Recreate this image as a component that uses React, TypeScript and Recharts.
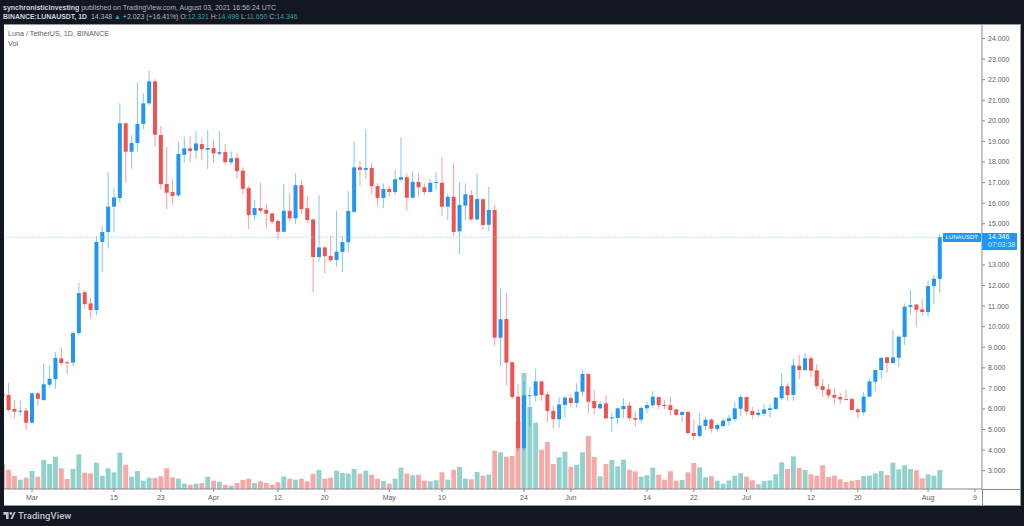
import React from "react";
import { ComposedChart, Bar, XAxis, YAxis, ReferenceLine } from "recharts";

// Days are counted from 1 March 2021; first candle is day -5.
const firstDay = -5;
const lastSlotDay = 162;

const opens = [
  6.74, 6.68, 6.0, 5.87, 5.92, 5.33, 6.76, 6.43, 7.18, 7.45,
  8.46, 8.27, 8.25, 9.69, 11.67, 11.13, 10.81, 14.12, 14.6, 15.83,
  16.25, 19.88, 18.5, 18.92, 19.85, 20.85, 21.92, 19.31, 16.93, 16.54,
  16.38, 18.35, 18.66, 18.55, 18.87, 18.6, 18.68, 18.4, 18.48, 17.98,
  18.19, 17.58, 16.73, 15.42, 15.76, 15.68, 15.5, 15.13, 14.61, 15.63,
  15.26, 16.87, 15.75, 15.21, 13.38, 13.85, 13.43, 13.24, 13.63, 14.1,
  15.58, 17.74, 17.62, 17.71, 16.83, 16.25, 16.69, 16.54, 17.14, 17.26,
  16.26, 17.03, 16.77, 16.54, 16.98, 16.99, 15.83, 16.31, 14.63, 15.88,
  16.39, 15.21, 16.19, 14.95, 15.67, 9.46, 10.37, 8.27, 6.6, 4.09,
  6.64, 6.64, 7.34, 6.71, 5.91, 5.5, 6.2, 6.53, 6.29, 6.84,
  7.7, 6.39, 6.03, 6.27, 5.55, 5.56, 5.99, 6.16, 5.56, 5.48,
  6.03, 6.18, 6.58, 6.19, 6.18, 5.98, 5.71, 5.85, 4.83, 4.69,
  5.17, 5.48, 5.03, 5.17, 5.41, 5.51, 6.01, 6.58, 5.9, 5.71,
  5.77, 5.95, 6.0, 6.52, 7.11, 6.68, 8.1, 7.89, 8.46, 7.88,
  7.11, 6.95, 6.68, 6.58, 6.48, 6.48, 5.98, 5.84, 6.6, 7.32,
  7.89, 8.51, 8.23, 8.49, 9.5, 10.96, 11.07, 10.84, 10.71, 11.97, 12.32,
];
const highs = [
  6.9, 7.26, 6.43, 6.4, 6.05, 6.8, 6.8, 8.22, 8.13, 8.77,
  9.0, 8.34, 9.75, 12.12, 11.78, 11.38, 14.4, 14.9, 17.51, 16.75,
  20.85, 19.93, 19.3, 21.87, 21.34, 22.42, 22.03, 19.75, 18.74, 17.17,
  18.98, 19.23, 19.26, 19.5, 19.16, 19.55, 19.1, 19.5, 18.87, 18.52,
  18.42, 17.74, 16.83, 16.15, 17.0, 15.96, 15.53, 15.23, 16.94, 16.48,
  17.45, 17.12, 16.35, 15.24, 16.39, 13.87, 14.43, 15.62, 14.43, 16.59,
  18.98, 18.05, 19.6, 17.96, 16.96, 16.96, 16.83, 17.61, 19.2, 17.45,
  17.55, 17.45, 16.96, 17.16, 17.51, 18.24, 16.44, 17.94, 17.03, 16.96,
  16.64, 17.45, 16.2, 16.8, 15.92, 11.86, 11.63, 8.32, 7.2, 7.32,
  7.08, 7.96, 7.35, 6.87, 6.16, 6.6, 6.6, 6.68, 7.25, 7.9,
  7.72, 6.92, 6.39, 6.66, 5.79, 6.05, 6.52, 6.35, 5.9, 6.11,
  6.34, 6.87, 6.6, 6.43, 6.6, 6.0, 5.9, 5.91, 5.5, 5.79,
  5.62, 5.55, 5.3, 5.55, 5.71, 6.34, 6.69, 6.6, 6.11, 6.0,
  6.24, 6.24, 6.6, 7.73, 7.25, 8.46, 8.62, 8.72, 8.57, 8.17,
  7.47, 7.21, 7.0, 6.77, 6.91, 6.55, 6.08, 6.81, 7.49, 7.95,
  8.52, 8.52, 9.83, 9.59, 11.13, 11.8, 11.11, 11.34, 12.23, 12.51, 14.5,
];
const lows = [
  6.5, 5.9, 5.56, 5.67, 4.98, 5.3, 6.16, 6.4, 7.03, 6.97,
  8.1, 7.7, 8.08, 9.58, 10.86, 10.39, 10.55, 12.65, 13.8, 14.58,
  16.0, 17.0, 17.67, 18.5, 19.6, 20.77, 18.74, 16.67, 15.7, 15.91,
  16.31, 17.98, 18.0, 18.16, 18.1, 17.66, 17.96, 18.3, 17.87, 17.85,
  17.19, 16.44, 14.74, 15.18, 15.5, 14.76, 14.99, 14.24, 14.6, 15.07,
  14.99, 15.5, 15.05, 11.65, 13.14, 12.59, 13.14, 12.91, 12.65, 13.59,
  15.53, 16.85, 17.17, 16.44, 15.83, 15.75, 16.31, 16.39, 17.04, 15.63,
  16.23, 16.31, 16.39, 16.5, 16.64, 15.37, 15.18, 14.4, 13.53, 15.18,
  15.15, 15.15, 14.7, 14.63, 9.07, 8.09, 7.16, 6.48, 3.9, 3.95,
  5.17, 6.35, 6.39, 5.35, 5.06, 5.09, 5.57, 6.08, 6.06, 6.64,
  5.79, 5.74, 5.99, 5.5, 4.89, 5.25, 5.54, 5.43, 5.14, 5.33,
  5.79, 6.06, 5.98, 5.98, 5.67, 5.66, 5.35, 4.73, 4.49, 4.6,
  4.98, 4.85, 4.89, 5.11, 5.19, 5.38, 5.66, 5.71, 5.5, 5.59,
  5.66, 5.59, 5.95, 6.42, 6.39, 6.4, 7.44, 7.86, 7.54, 6.96,
  6.57, 6.48, 6.19, 6.24, 6.43, 5.93, 5.56, 5.69, 6.57, 6.87,
  7.47, 7.76, 8.2, 8.05, 9.11, 10.6, 10.0, 10.52, 10.48, 11.1, 11.65,
];
const closes = [
  6.66, 5.95, 5.87, 5.92, 5.33, 6.76, 6.49, 7.2, 7.47, 8.48,
  8.23, 8.22, 9.69, 11.63, 11.1, 10.81, 14.12, 14.6, 15.83, 16.28,
  19.88, 18.5, 18.92, 19.85, 20.85, 21.92, 19.33, 16.92, 16.51, 16.35,
  18.39, 18.66, 18.53, 18.9, 18.62, 18.68, 18.42, 18.48, 17.99, 18.18,
  17.56, 16.7, 15.42, 15.76, 15.63, 15.49, 15.1, 14.61, 15.63, 15.26,
  16.87, 15.71, 15.18, 13.38, 13.85, 13.42, 13.22, 13.64, 14.11, 15.62,
  17.74, 17.62, 17.71, 16.82, 16.25, 16.69, 16.54, 17.16, 17.26, 16.26,
  17.03, 16.77, 16.54, 16.99, 17.03, 15.83, 16.31, 14.6, 15.91, 16.43,
  15.21, 16.2, 14.94, 15.67, 9.46, 10.36, 8.25, 6.58, 4.09, 6.66,
  6.67, 7.34, 6.68, 5.9, 5.5, 6.22, 6.55, 6.29, 6.84, 7.7,
  6.35, 6.04, 6.24, 5.55, 5.59, 6.03, 6.14, 5.55, 5.48, 6.05,
  6.19, 6.6, 6.18, 6.14, 5.95, 5.71, 5.85, 4.83, 4.69, 5.19,
  5.48, 5.04, 5.22, 5.43, 5.55, 6.03, 6.58, 5.88, 5.71, 5.82,
  5.98, 6.03, 6.55, 7.11, 6.68, 8.12, 7.89, 8.46, 7.86, 7.11,
  6.92, 6.66, 6.55, 6.47, 6.45, 5.95, 5.84, 6.6, 7.34, 7.89,
  8.48, 8.23, 8.51, 9.51, 10.97, 11.05, 10.82, 10.71, 11.97, 12.33, 14.35,
];
const volumes = [
  25, 19.3, 13, 9.3, 11.3, 18, 12.3, 29, 25, 32.3,
  20.7, 10, 20, 34.7, 16.3, 15.7, 26.3, 13.3, 20.7, 16.7,
  36.3, 24.3, 12.3, 18, 8.3, 11.3, 11, 12.7, 20.7, 11.7,
  10.3, 5.3, 4.3, 5.3, 6, 12.3, 8.3, 7.3, 4.3, 3.3,
  6, 9, 10.3, 6, 7.7, 6, 4.3, 6.7, 12.7, 10.3,
  9.3, 10.3, 7.7, 15.3, 19, 10.3, 11.3, 18.3, 16, 15.3,
  20, 15.3, 18.3, 14.3, 10.3, 8, 5.3, 10.3, 21.3, 15.3,
  13.7, 14.3, 8.3, 7.7, 8.7, 16.7, 9.3, 19.3, 22, 10.3,
  9.7, 17, 13.3, 14.3, 38.3, 36.7, 32.3, 33, 67.7, 116,
  82, 66.3, 39.3, 47, 25, 31.7, 37.3, 22.3, 24.3, 36.7,
  53, 32, 12.7, 25, 29, 22.7, 29.3, 19.3, 17.7, 12.3,
  13.7, 21.3, 14.3, 9.3, 17.7, 8.3, 9, 16.7, 26, 21.7,
  11.7, 12.7, 8.3, 5.3, 8.5, 13.3, 15.7, 12.3, 8.7, 4.7,
  8, 8.7, 14.7, 26.7, 20, 32.7, 21, 19, 14.7, 13.3,
  23.7, 12, 13.3, 9.7, 7, 8.3, 9, 13, 13.3, 15.7,
  18, 14, 26.3, 19.7, 23.7, 20, 18.7, 10.7, 14.7, 13.3, 19,
];

const tickDays = [0, 14, 22, 31, 42, 50, 61, 70, 84, 92, 105, 113, 122, 133, 141, 153, 161];
const tickLabels = ["Mar", "15", "23", "Apr", "12", "20", "May", "10", "24", "Jun", "14", "22", "Jul", "12", "20", "Aug", "9"];
// 14.000 is covered by the last-price label in the reference, so it is not listed.
const priceTicks = [3, 4, 5, 6, 7, 8, 9, 10, 11, 12, 13, 15, 16, 17, 18, 19, 20, 21, 22, 23, 24];
const lastPrice = 14.346;
const priceDomain = [2.111, 24.705];
const volumeDomain = [0, 465];

const BLUE = "#2196f3";
const RED = "#ef5350";
const VOL_GREEN = "#92d2cc";
const VOL_RED = "#f7a9a7";
const AXIS = "#868993";
const TEXT = "#5d6069";
const DARK = "#131722";
const FONT = "'Liberation Sans', Arial, sans-serif";
const STEP = 5.857;

const rows: any[] = [];
for (let day = firstDay; day <= lastSlotDay; day++) {
  const i = day - firstDay;
  rows.push(
    i < opens.length
      ? { day, open: opens[i], high: highs[i], low: lows[i], close: closes[i], range: [lows[i], highs[i]], volume: volumes[i] }
      : { day }
  );
}

function Candle(p: any) {
  const d = p.payload;
  if (!d || d.high == null || !p.height) return null;
  const cx = p.x + STEP / 2;
  const toY = (v: number) => p.y + ((d.high - v) / (d.high - d.low)) * p.height;
  const up = d.close >= d.open;
  const color = up ? BLUE : RED;
  const top = toY(Math.max(d.open, d.close));
  const bot = toY(Math.min(d.open, d.close));
  return (
    <g>
      <line x1={cx} x2={cx} y1={p.y} y2={p.y + p.height} stroke={color} strokeWidth={0.8} strokeOpacity={0.7} />
      <rect x={cx - 2} width={4} y={top} height={Math.max(bot - top, 1)} fill={color} />
    </g>
  );
}

function VolumeBar(p: any) {
  const d = p.payload;
  if (!d || d.volume == null) return null;
  const cx = p.x + STEP / 2;
  return <rect x={cx - 2.45} width={4.9} y={p.y} height={p.height} fill={d.close >= d.open ? VOL_GREEN : VOL_RED} />;
}

const abs = (left: number, top: number, width: number, height: number, background: string): React.CSSProperties => ({
  position: "absolute", left, top, width, height, background,
});

const small = (left: number, top: number, color: string, size = 7): React.CSSProperties => ({
  position: "absolute", left, top, color, font: `${size}px ${FONT}`, lineHeight: "9px", whiteSpace: "pre",
});

export default function App() {
  const teal = { color: "#26a69a" };
  return (
    <div style={abs(0, 0, 1024, 526, DARK)}>
      <div style={abs(4, 24, 1016, 481, "#ffffff")} />
      <div style={{ position: "absolute", left: 0, top: 0 }}>
        <ComposedChart
          width={1024}
          height={526}
          data={rows}
          barCategoryGap={0}
          barGap={0}
          margin={{ top: 24, left: 4, right: 4, bottom: 21 }}
        >
          <XAxis
            xAxisId="price"
            dataKey="day"
            type="category"
            scale="band"
            padding={{ left: -4.2, right: -1.7 }}
            ticks={tickDays}
            interval={0}
            height={16}
            tickSize={3}
            tickMargin={3}
            tickFormatter={(v: number) => tickLabels[tickDays.indexOf(v)]}
            tick={{ fontSize: 7, fontFamily: FONT, fill: TEXT }}
            axisLine={{ stroke: AXIS, strokeWidth: 1 }}
            tickLine={{ stroke: AXIS }}
          />
          <XAxis
            xAxisId="volume"
            dataKey="day"
            type="category"
            scale="band"
            padding={{ left: -4.2, right: -1.7 }}
            hide
          />
          <YAxis
            yAxisId="price"
            orientation="right"
            width={38}
            domain={priceDomain}
            allowDataOverflow
            ticks={priceTicks}
            interval={0}
            tickSize={3}
            tickMargin={3}
            tickFormatter={(v: number) => v.toFixed(3)}
            tick={{ fontSize: 7, fontFamily: FONT, fill: TEXT }}
            axisLine={{ stroke: AXIS, strokeWidth: 1 }}
            tickLine={{ stroke: AXIS }}
          />
          <YAxis yAxisId="volume" domain={volumeDomain} allowDataOverflow hide />
          <Bar xAxisId="volume" yAxisId="volume" dataKey="volume" shape={VolumeBar} isAnimationActive={false} />
          <ReferenceLine xAxisId="price" yAxisId="price" y={lastPrice} stroke="#90caf9" strokeWidth={0.8} strokeDasharray="1.5 1.5" />
          <Bar xAxisId="price" yAxisId="price" dataKey="range" shape={Candle} isAnimationActive={false} />
        </ComposedChart>
      </div>

      <div style={abs(0, 0, 4, 526, DARK)} />
      <div style={abs(982, 489, 1, 16, AXIS)} />
      <div style={abs(983, 489, 37, 1, AXIS)} />
      <div style={abs(4, 505, 1016, 1, "#9598a1")} />
      <div style={abs(1020, 24, 1, 482, "#9598a1")} />
      <div style={abs(4, 24, 1016, 1, "#9598a1")} />

      <div style={small(3, 3, "#b2b5be")}>
        <span style={{ color: "#d1d4dc", fontWeight: 700 }}>synchronisticinvesting</span> published on TradingView.com, August 03, 2021 16:56:24 UTC
      </div>
      <div style={small(3, 12, "#b2b5be", 6.95)}>
        <span style={{ color: "#d1d4dc", fontWeight: 700 }}>BINANCE:LUNAUSDT, 1D</span>{"  14.348 "}
        <span style={teal}>▲</span>{" +2.023 (+16.41%) O:"}<span style={teal}>12.321</span>{" H:"}<span style={teal}>14.498</span>{" L:"}<span style={teal}>11.650</span>{" C:"}<span style={teal}>14.346</span>
      </div>
      <div style={small(8, 29, TEXT, 7.2)}>Luna / TetherUS, 1D, BINANCE</div>
      <div style={small(8, 38.5, TEXT, 7.2)}>Vol</div>

      <div style={{ ...abs(943, 232.5, 37.5, 9.5, BLUE), color: "#fff", font: `6px ${FONT}`, lineHeight: "9.5px", textAlign: "center" }}>LUNAUSDT</div>
      <div style={{ ...abs(982, 232.5, 35, 17, BLUE), color: "#fff", font: `7px ${FONT}` }}>
        <div style={{ position: "absolute", left: 6, top: 0.5, lineHeight: "8px" }}>14.346</div>
        <div style={{ position: "absolute", left: 6, top: 8.5, lineHeight: "8px", opacity: 0.8 }}>07:03:38</div>
      </div>

      <svg style={{ position: "absolute", left: 3, top: 512 }} width={13} height={7} viewBox="0 0 14 8">
        <path d="M0 0h6v8H3V3H0zM12 0h2L10.5 8H8z" fill="#c0c3ca" />
        <circle cx="8.5" cy="1.6" r="1.5" fill="#c0c3ca" />
      </svg>
      <div style={{ position: "absolute", left: 18, top: 510, color: "#c0c3ca", font: `500 9.6px Roboto, ${FONT}`, lineHeight: "12px" }}>TradingView</div>
    </div>
  );
}
